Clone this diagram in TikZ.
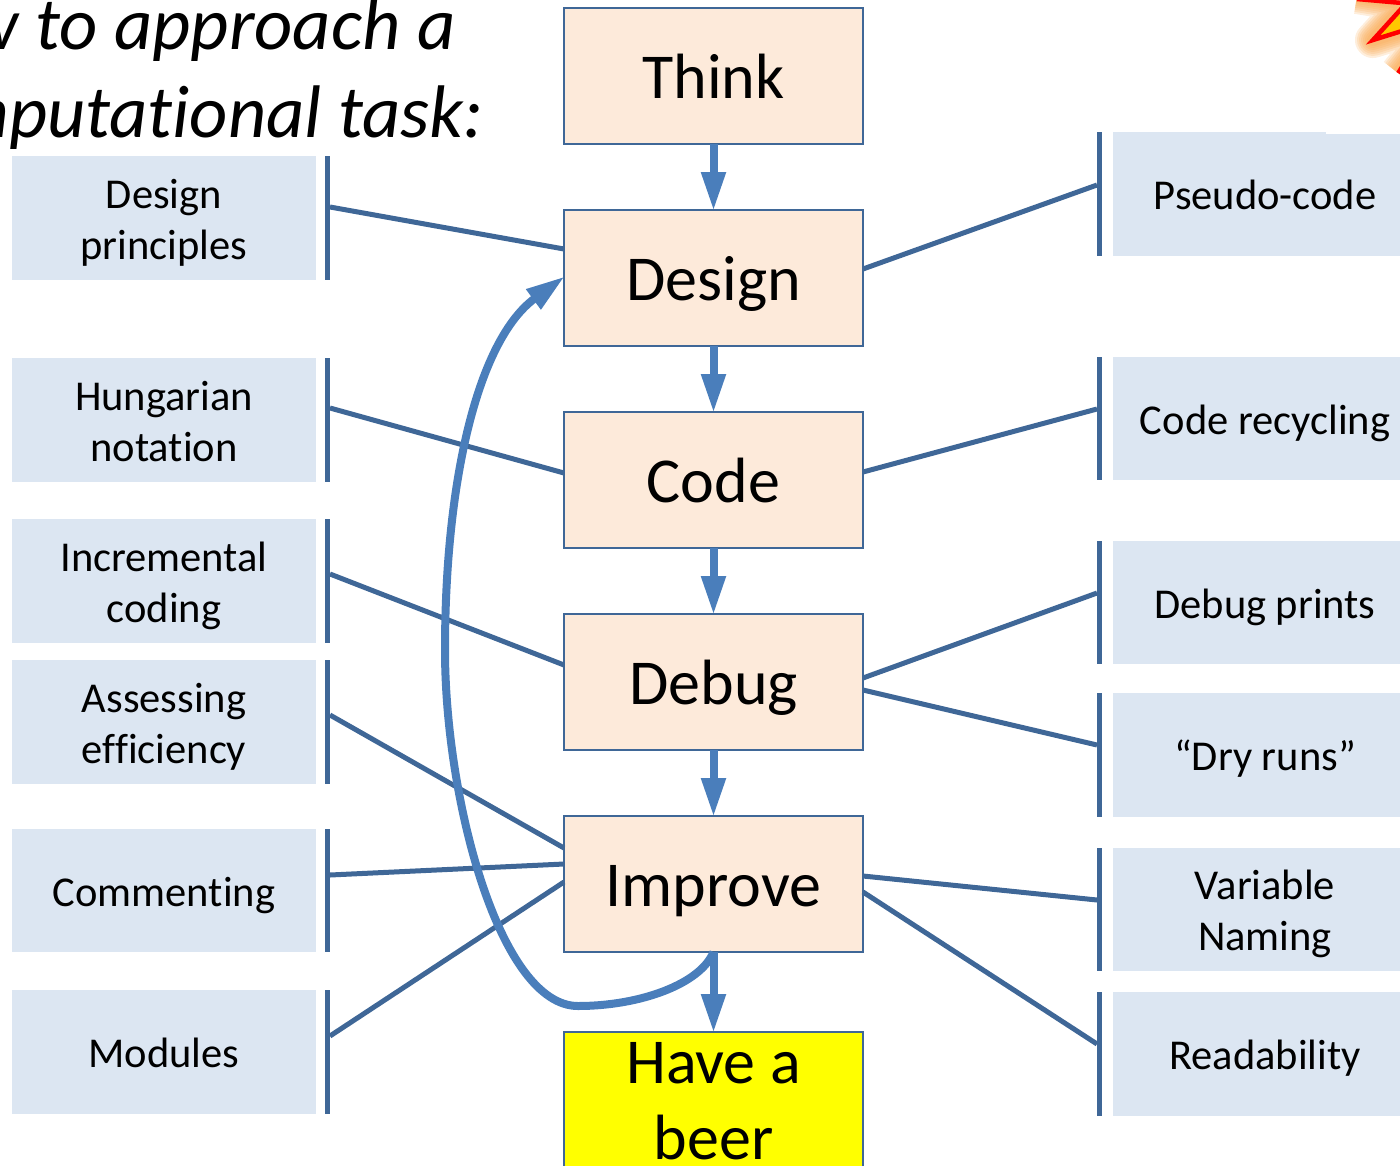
\documentclass[tikz,border=0pt]{standalone}
\usepackage{fontspec}
\setmainfont[Ligatures=NoCommon]{Carlito}
\usetikzlibrary{arrows.meta}
\definecolor{edgeblue}{HTML}{3F6797}
\definecolor{arrowblue}{HTML}{4A7EBB}
\definecolor{peach}{HTML}{FDEADA}
\definecolor{paleblue}{HTML}{DCE6F2}
\definecolor{glow}{HTML}{F9A84F}
\definecolor{pureyellow}{HTML}{FFFF00}
\definecolor{burstyellow}{HTML}{FFC800}
\definecolor{purered}{HTML}{FF0000}
\newcommand{\tstrut}{\rule[-10pt]{0pt}{51pt}}
\tikzset{
  stagebase/.style={draw=edgeblue,line width=2.7pt,fill=peach,minimum width=299pt,minimum height=136pt,inner sep=0pt,outer sep=0pt,text=black,align=center,font=\fontsize{64}{76}\selectfont},
  stage/.style={stagebase,text height=44pt,text depth=0pt},
  topic/.style={fill=paleblue,minimum width=304pt,minimum height=124pt,inner sep=0pt,outer sep=0pt,align=center,font=\fontsize{42.5}{51}\selectfont},
  bar/.style={fill=edgeblue,minimum width=5pt,minimum height=124pt,inner sep=0pt,outer sep=0pt},
  flow/.style={draw=arrowblue,line width=8pt,shorten >=-1pt,-{Triangle[width=23pt,length=39pt]}},
  link/.style={draw=edgeblue,line width=5pt},
  titletext/.style={anchor=base east,inner sep=0pt,font=\fontsize{74.5}{88}\selectfont\itshape}
}
\begin{document}
\begin{tikzpicture}[x=1pt,y=-1pt]
\useasboundingbox (0,0) rectangle (1400,1165);
\clip (0,0) rectangle (1400,1165);
% title
\node[titletext] (t1) at (456,49) {How to approach a};
\node[titletext] (t2) at (484,137) {computational task:};
% burst
\foreach \w in {36,32,28,24,20,16,12}{
  \draw[glow,opacity=.2,line width=\w pt,line join=round] (1357,-4) -- (1400,3) (1402,8) -- (1373,40) -- (1402,31) (1398,73) -- (1412,55);
}
\fill[burstyellow] (1402,8) -- (1373,40) -- (1402,31) -- cycle;
\draw[purered,line width=4.5pt] (1357,-1) -- (1402,3);
\draw[purered,line width=4.5pt,line join=miter] (1402,8) -- (1373,40) -- (1402,31);
\draw[purered,line width=4pt] (1398,73) -- (1406,60);
% left topics
\node[topic] (l1) at (164,218) {\tstrut Design\\principles\tstrut};
\node[topic] (l2) at (164,420) {\tstrut Hungarian\\notation\tstrut};
\node[topic] (l3) at (164,581) {\tstrut Incremental\\coding\tstrut};
\node[topic] (l4) at (164,722) {\tstrut Assessing\\efficiency\tstrut};
\node[topic,minimum height=123pt] (l5) at (164,890.5) {\tstrut Commenting};
\node[topic] (l6) at (164,1052) {\tstrut Modules};
\node[bar] (lb1) at (327.5,218) {};
\node[bar] (lb2) at (327.5,420) {};
\node[bar] (lb3) at (327.5,581) {};
\node[bar] (lb4) at (327.5,722) {};
\node[bar,minimum height=123pt] (lb5) at (327.5,890.5) {};
\node[bar] (lb6) at (327.5,1052) {};
% right topics
\node[topic] (r1) at (1265,194) {\tstrut Pseudo-code};
\fill[white] (1326,130) rectangle (1400,134);
\node[topic,minimum height=123pt] (r2) at (1265,418.5) {\tstrut Code recycling};
\node[topic,minimum height=123pt] (r3) at (1265,602.5) {\tstrut Debug prints};
\node[topic] (r4) at (1265,755) {\tstrut “Dry runs”};
\node[topic,minimum height=123pt] (r5) at (1265,909.5) {\tstrut Variable\\Naming\tstrut};
\node[topic] (r6) at (1265,1054) {\tstrut Readability};
\node[bar] (rb1) at (1099.5,194) {};
\node[bar,minimum height=123pt] (rb2) at (1099.5,418.5) {};
\node[bar,minimum height=123pt] (rb3) at (1099.5,602.5) {};
\node[bar] (rb4) at (1099.5,755) {};
\node[bar,minimum height=123pt] (rb5) at (1099.5,909.5) {};
\node[bar] (rb6) at (1099.5,1054) {};
% stages
\node[stage] (think) at (713.5,76) {Think};
\node[stage] (design) at (713.5,278) {Design};
\node[stage] (code) at (713.5,480) {Code};
\node[stage] (debug) at (713.5,682) {Debug};
\node[stage] (improve) at (713.5,884) {Improve};
\node[stagebase,fill=pureyellow,minimum height=138pt] (beer) at (713.5,1101) {Have a\\beer};
% links: y offsets measured from top of each bar / box
\draw[link] ([yshift=-51pt]lb1.north east) -- ([yshift=-39pt]design.north west);
\draw[link] ([yshift=-50pt]lb2.north east) -- ([yshift=-61pt]code.north west);
\draw[link] ([yshift=-55pt]lb3.north east) -- ([yshift=-51pt]debug.north west);
\draw[link] ([yshift=-55pt]lb4.north east) -- ([yshift=-32pt]improve.north west);
\draw[link] ([yshift=-46pt]lb5.north east) -- ([yshift=-48pt]improve.north west);
\draw[link] ([yshift=-46pt]lb6.north east) -- ([yshift=-66pt]improve.north west);
\draw[link] ([yshift=-59pt]design.north east) -- ([yshift=-53pt]rb1.north west);
\draw[link] ([yshift=-60pt]code.north east) -- ([yshift=-52pt]rb2.north west);
\draw[link] ([yshift=-64pt]debug.north east) -- ([yshift=-52pt]rb3.north west);
\draw[link] ([yshift=-76pt]debug.north east) -- ([yshift=-52pt]rb4.north west);
\draw[link] ([yshift=-60pt]improve.north east) -- ([yshift=-52pt]rb5.north west);
\draw[link] ([yshift=-76pt]improve.north east) -- ([yshift=-52pt]rb6.north west);
% flow
\draw[flow] (think) -- (design);
\draw[flow] (design) -- (code);
\draw[flow] (code) -- (debug);
\draw[flow] (debug) -- (improve);
\draw[flow] (improve) -- (beer);
\draw[flow] (improve.south) .. controls +(-13,32) and (640,1006) .. (578,1006)
  .. controls (500,1006) and (445,800) .. (445,650)
  .. controls (445,480) and (478,340) .. ([yshift=1pt]design.west);
\end{tikzpicture}
\end{document}
